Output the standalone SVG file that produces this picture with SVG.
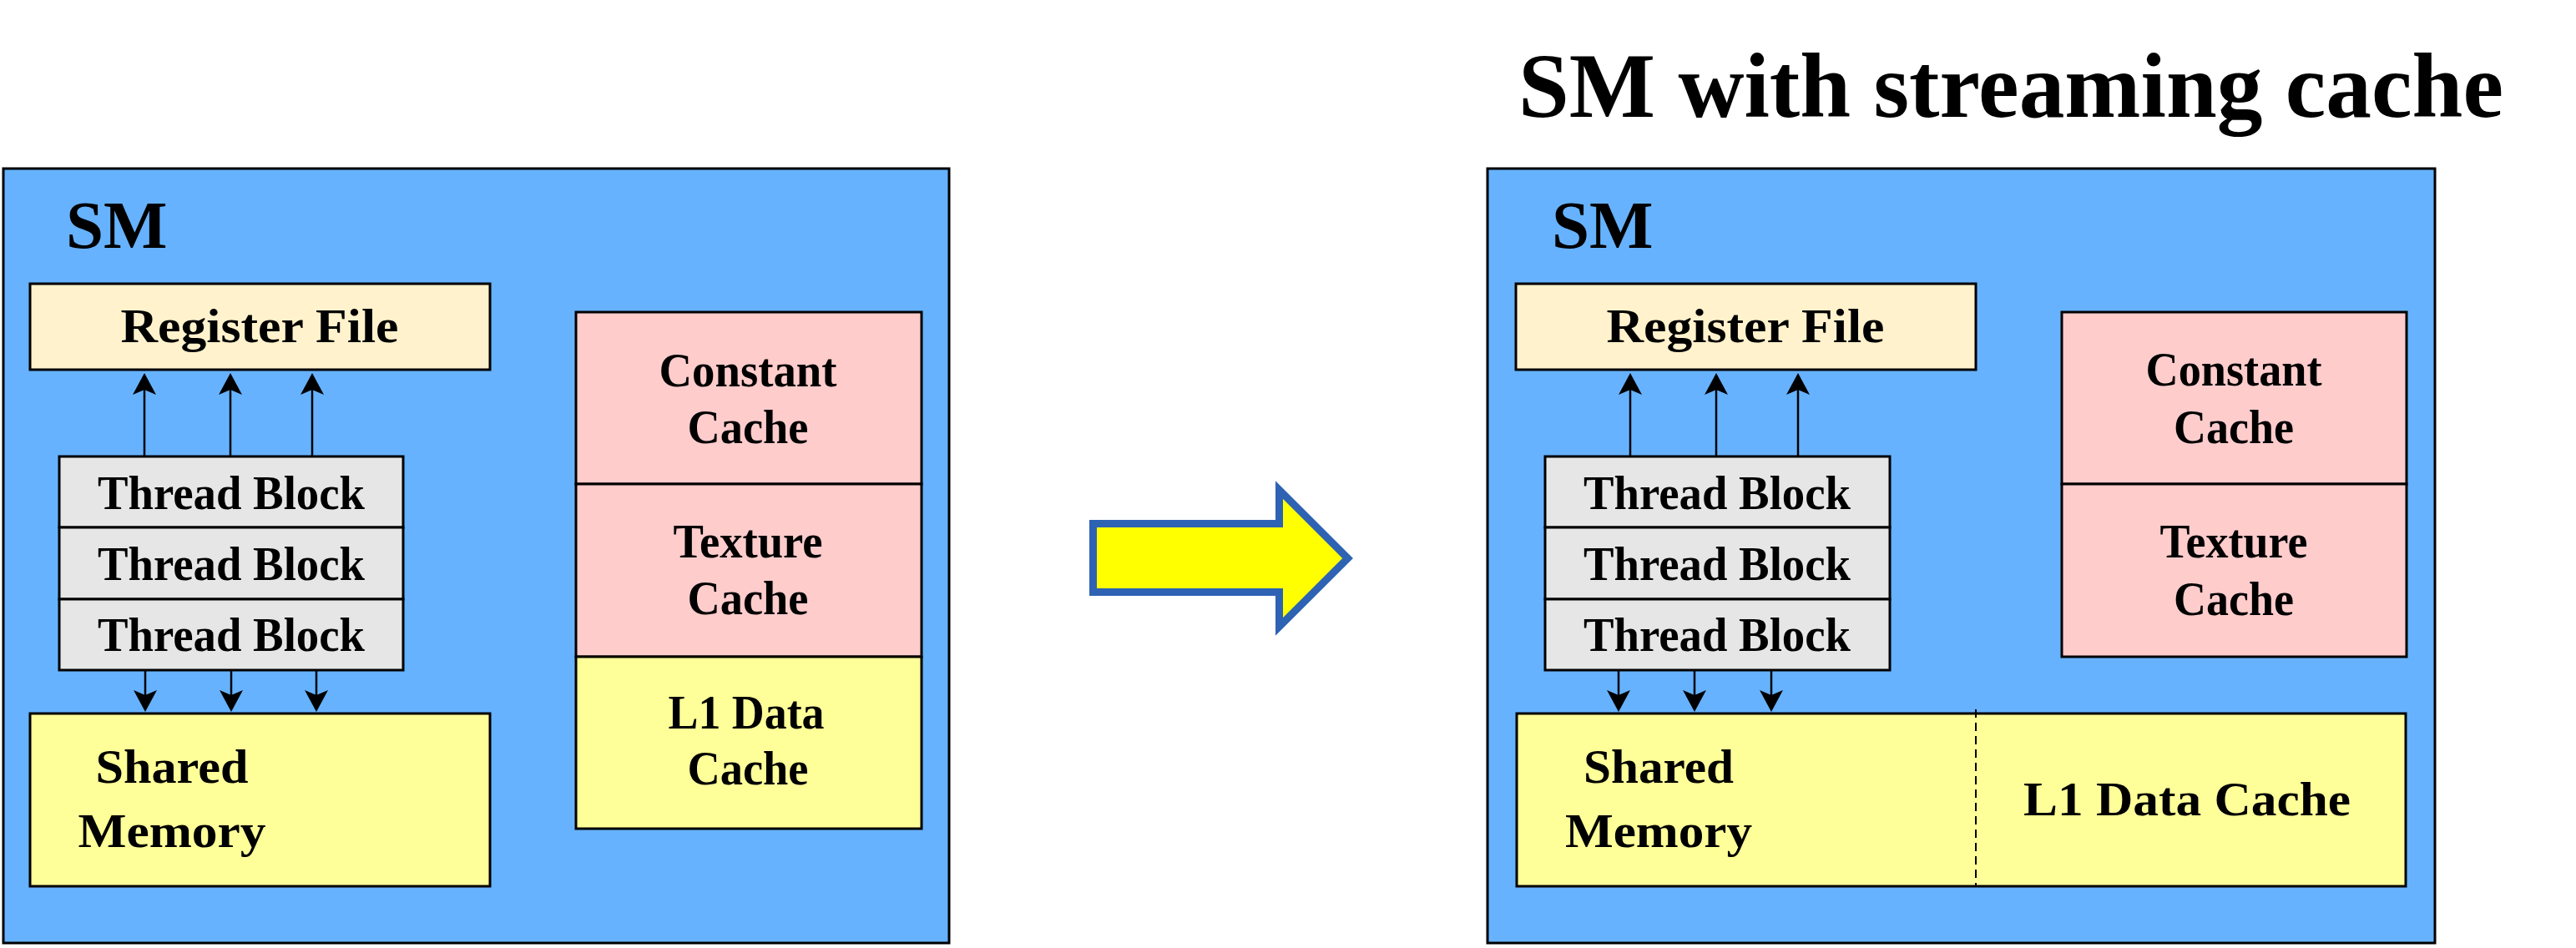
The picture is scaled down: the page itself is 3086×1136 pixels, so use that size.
<svg xmlns="http://www.w3.org/2000/svg" width="3086" height="1136" viewBox="0 0 3086 1136">
<style>
text{font-family:"Liberation Serif","Times New Roman",serif;font-weight:bold;fill:#000}
.lbl{font-size:56px;text-anchor:middle}
.sm{font-size:81px}
.title{font-size:110px}
.smbox{fill:#66B2FF;stroke:#000;stroke-width:3}
.rf{fill:#FFF2CC;stroke:#000;stroke-width:3}
.tb{fill:#E6E6E6;stroke:#000;stroke-width:3}
.pink{fill:#FFCCCC;stroke:#000;stroke-width:3}
.yel{fill:#FFFF99;stroke:#000;stroke-width:3}
.conn{stroke:#000;stroke-width:2.5;fill:none;marker-end:url(#ah)}
</style>
<defs>
<marker id="ah" markerUnits="userSpaceOnUse" markerWidth="30" markerHeight="30" viewBox="0 -15 28 30" refX="6" refY="0" orient="auto">
<path d="M26,0 L0,-14 L6,0 L0,14 Z" fill="#000"/>
</marker>
</defs>
<rect width="3086" height="1136" fill="#fff"/>

<text id="title" class="title" x="1819" y="140" textLength="1180" lengthAdjust="spacingAndGlyphs">SM with streaming cache</text>

<!-- Left SM -->
<g id="sm-left">
<rect class="smbox" x="4" y="202" width="1133" height="928"/>
<text class="sm" x="79" y="297">SM</text>
</g>
<g id="rf-left">
<rect class="rf" x="36" y="340" width="551" height="103"/>
<text class="lbl" x="311" y="410" textLength="333" lengthAdjust="spacingAndGlyphs">Register File</text>
</g>
<g id="tb-left-1"><rect class="tb" x="71" y="547" width="412" height="85"/><text class="lbl" x="277" y="610" textLength="320" lengthAdjust="spacingAndGlyphs">Thread Block</text></g>
<g id="tb-left-2"><rect class="tb" x="71" y="632" width="412" height="86"/><text class="lbl" x="277" y="695" textLength="320" lengthAdjust="spacingAndGlyphs">Thread Block</text></g>
<g id="tb-left-3"><rect class="tb" x="71" y="718" width="412" height="85"/><text class="lbl" x="277" y="780" textLength="320" lengthAdjust="spacingAndGlyphs">Thread Block</text></g>
<g id="shm-left">
<rect class="yel" x="36" y="855" width="551" height="207"/>
<text class="lbl" x="206" y="938" textLength="183" lengthAdjust="spacingAndGlyphs">Shared</text>
<text class="lbl" x="206" y="1015" textLength="225" lengthAdjust="spacingAndGlyphs">Memory</text>
</g>
<g id="cc-left">
<rect class="pink" x="690" y="374" width="414" height="206"/>
<text class="lbl" x="896" y="463" textLength="213" lengthAdjust="spacingAndGlyphs">Constant</text>
<text class="lbl" x="896" y="531" textLength="145" lengthAdjust="spacingAndGlyphs">Cache</text>
</g>
<g id="tc-left">
<rect class="pink" x="690" y="580" width="414" height="207"/>
<text class="lbl" x="896" y="668" textLength="179" lengthAdjust="spacingAndGlyphs">Texture</text>
<text class="lbl" x="896" y="736" textLength="145" lengthAdjust="spacingAndGlyphs">Cache</text>
</g>
<g id="l1-left">
<rect class="yel" x="690" y="787" width="414" height="206"/>
<text class="lbl" x="894" y="873" textLength="187" lengthAdjust="spacingAndGlyphs">L1 Data</text>
<text class="lbl" x="896" y="940" textLength="145" lengthAdjust="spacingAndGlyphs">Cache</text>
</g>

<!-- Transition arrow -->
<g id="big-arrow">
<path d="M1309.5,627.5 L1532.5,627.5 L1532.5,587 L1614.6,669 L1532.5,751 L1532.5,709.5 L1309.5,709.5 Z" fill="#FFFF00" stroke="#2E63B4" stroke-width="9" stroke-linejoin="miter"/>
</g>

<!-- Right SM -->
<g id="sm-right">
<rect class="smbox" x="1782" y="202" width="1135" height="928"/>
<text class="sm" x="1859" y="297">SM</text>
</g>
<g id="rf-right">
<rect class="rf" x="1816" y="340" width="551" height="103"/>
<text class="lbl" x="2091" y="410" textLength="333" lengthAdjust="spacingAndGlyphs">Register File</text>
</g>
<g id="tb-right-1"><rect class="tb" x="1851" y="547" width="413" height="85"/><text class="lbl" x="2057" y="610" textLength="320" lengthAdjust="spacingAndGlyphs">Thread Block</text></g>
<g id="tb-right-2"><rect class="tb" x="1851" y="632" width="413" height="86"/><text class="lbl" x="2057" y="695" textLength="320" lengthAdjust="spacingAndGlyphs">Thread Block</text></g>
<g id="tb-right-3"><rect class="tb" x="1851" y="718" width="413" height="85"/><text class="lbl" x="2057" y="780" textLength="320" lengthAdjust="spacingAndGlyphs">Thread Block</text></g>
<g id="shm-l1-right">
<rect class="yel" x="1817" y="855" width="1065" height="207"/>
<line x1="2367" y1="850" x2="2367" y2="1062" stroke="#000" stroke-width="2" stroke-dasharray="10,6"/>
<text class="lbl" x="1987" y="938" textLength="180" lengthAdjust="spacingAndGlyphs">Shared</text>
<text class="lbl" x="1987" y="1015" textLength="224" lengthAdjust="spacingAndGlyphs">Memory</text>
<text class="lbl" x="2620" y="977" textLength="392" lengthAdjust="spacingAndGlyphs">L1 Data Cache</text>
</g>
<g id="cc-right">
<rect class="pink" x="2470" y="374" width="413" height="206"/>
<text class="lbl" x="2676" y="462" textLength="211" lengthAdjust="spacingAndGlyphs">Constant</text>
<text class="lbl" x="2676" y="531" textLength="144" lengthAdjust="spacingAndGlyphs">Cache</text>
</g>
<g id="tc-right">
<rect class="pink" x="2470" y="580" width="413" height="207"/>
<text class="lbl" x="2676" y="668" textLength="177" lengthAdjust="spacingAndGlyphs">Texture</text>
<text class="lbl" x="2676" y="737" textLength="144" lengthAdjust="spacingAndGlyphs">Cache</text>
</g>

<!-- Connectors -->
<g id="connectors">
<line class="conn" x1="173" y1="546" x2="173" y2="467"/>
<line class="conn" x1="276" y1="546" x2="276" y2="467"/>
<line class="conn" x1="374" y1="546" x2="374" y2="467"/>
<line class="conn" x1="174" y1="804" x2="174" y2="833"/>
<line class="conn" x1="277" y1="804" x2="277" y2="833"/>
<line class="conn" x1="379" y1="804" x2="379" y2="833"/>
<line class="conn" x1="1953" y1="546" x2="1953" y2="467"/>
<line class="conn" x1="2056" y1="546" x2="2056" y2="467"/>
<line class="conn" x1="2154" y1="546" x2="2154" y2="467"/>
<line class="conn" x1="1939" y1="804" x2="1939" y2="833"/>
<line class="conn" x1="2030" y1="804" x2="2030" y2="833"/>
<line class="conn" x1="2122" y1="804" x2="2122" y2="833"/>
</g>
</svg>
